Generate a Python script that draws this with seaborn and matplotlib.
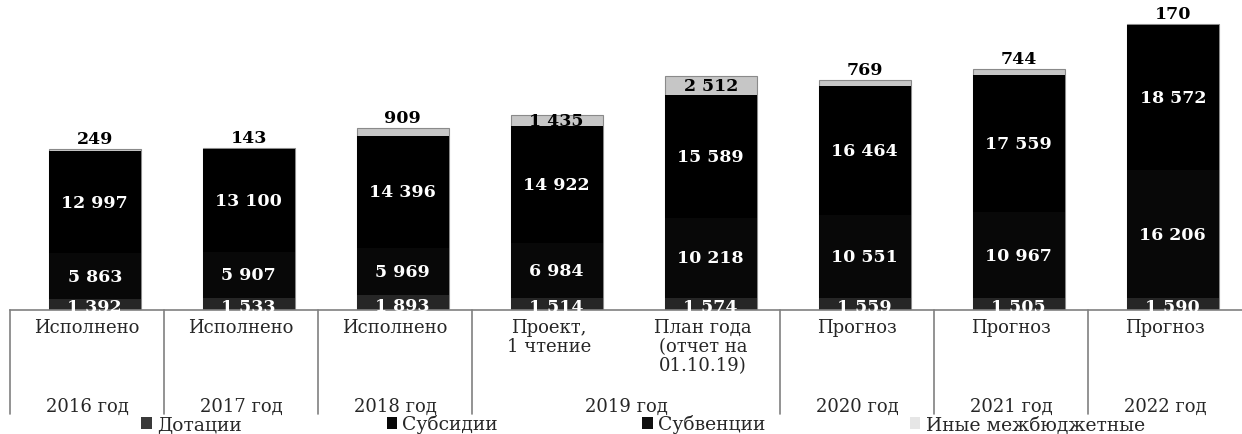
import matplotlib
matplotlib.use("Agg")
import matplotlib.pyplot as plt
import matplotlib.patches as mpatches
import pandas as pd
import seaborn as sns

# данные (млн руб.)
periods = ["Исполнено", "Исполнено", "Исполнено", "Проект,\n1 чтение",
           "План года\n(отчет на\n01.10.19)", "Прогноз", "Прогноз", "Прогноз"]
years = ["2016 год", "2017 год", "2018 год", "2019 год", "2020 год", "2021 год", "2022 год"]
year_spans = [(0, 0), (1, 1), (2, 2), (3, 4), (5, 5), (6, 6), (7, 7)]
dotacii = [1392, 1533, 1893, 1514, 1574, 1559, 1505, 1590]
subsidii = [5863, 5907, 5969, 6984, 10218, 10551, 10967, 16206]
subvencii = [12997, 13100, 14396, 14922, 15589, 16464, 17559, 18572]
inye = [249, 143, 909, 1435, 2512, 769, 744, 170]

series_names = ["Дотации", "Субсидии", "Субвенции", "Иные межбюджетные"]
colors = ["#262626", "#080808", "#000000", "#c6c6c6"]
legend_colors = ["#3a3a3a", "#080808", "#101010", "#e6e6e6"]

# bars sit a bit to the right of the category cells (3D look of the original)
cell_shift = 0.05


def fmt(v):
    return f"{v:,}".replace(",", " ")


sns.set_style("white")
plt.rcParams["font.family"] = ["DejaVu Serif", "DejaVu Sans"]

df = pd.DataFrame({"pos": range(len(periods)), "Дотации": dotacii, "Субсидии": subsidii,
                   "Субвенции": subvencii, "Иные межбюджетные": inye})
cum = df[series_names].cumsum(axis=1)

fig = plt.figure(figsize=(12.42, 4.35), dpi=100)
ax = fig.add_axes([10 / 1242, 1 - 311 / 435, 1232 / 1242, 311 / 435])

# stacked bars: draw cumulative totals from top to bottom
for name, color in reversed(list(zip(series_names, colors))):
    edge = "#8a8a8a" if name == "Иные межбюджетные" else "none"
    sns.barplot(x=df["pos"], y=cum[name], color=color, width=0.6, ax=ax,
                saturation=1, edgecolor=edge, linewidth=0.8)

ax.set_xlim(-0.5 - cell_shift, 7.5 - cell_shift)
ax.set_ylim(0, 39670)
ax.set_yticks([])
ax.set_ylabel("")
ax.set_xlabel("")
for s in ["top", "left", "right"]:
    ax.spines[s].set_visible(False)
ax.spines["bottom"].set_color("#808080")
ax.spines["bottom"].set_linewidth(1.2)

# подписи данных
for i in range(len(periods)):
    b = 0
    for j, name in enumerate(series_names):
        v = df.loc[i, name]
        if j == 0:
            ax.text(i, b + v * 0.3, fmt(v), ha="center", va="center", color="white",
                    fontsize=12.5, fontweight="bold")
        elif j < 3:
            ax.text(i, b + v / 2, fmt(v), ha="center", va="center", color="white",
                    fontsize=12.5, fontweight="bold")
        elif v > 1000:
            ax.text(i, b + v / 2, fmt(v), ha="center", va="center", color="black",
                    fontsize=12.5, fontweight="bold")
        else:
            ax.text(i, b + v + 250, fmt(v), ha="center", va="bottom", color="black",
                    fontsize=12.5, fontweight="bold")
        b += v

# двухуровневая ось категорий
ax.set_xticks([p - cell_shift for p in range(len(periods))])
ax.set_xticklabels(periods, fontsize=13, linespacing=1.08, va="top")
ax.tick_params(axis="x", length=0, pad=6)
trans = ax.get_xaxis_transform()
for name, (a, b) in zip(years, year_spans):
    ax.text((a + b) / 2 - cell_shift, -0.309, name, transform=trans, ha="center",
            va="center", fontsize=13)
for x in [-0.5, 0.5, 1.5, 2.5, 4.5, 5.5, 6.5]:
    ax.plot([x - cell_shift] * 2, [0, -0.335], transform=trans, color="#808080",
            lw=1.2, clip_on=False)

handles = [mpatches.Patch(facecolor=c, edgecolor="none") for c in legend_colors]
fig.legend(handles, series_names, loc="center", bbox_to_anchor=(0.518, 0.023),
           ncol=4, frameon=False, fontsize=13.5, handlelength=0.55, handleheight=0.55,
           handletextpad=0.3, columnspacing=7.7, borderpad=0)

fig.savefig("out.png", dpi=100)
